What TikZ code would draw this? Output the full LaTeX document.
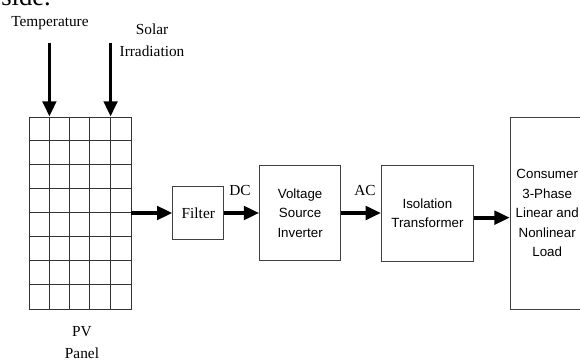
\documentclass[tikz,border=0pt]{standalone}
\usepackage{fontspec}
\setmainfont{Liberation Serif}
\setsansfont{Liberation Sans}
\usetikzlibrary{arrows.meta, positioning}

\begin{document}
\begin{tikzpicture}[x=0.75pt, y=-0.75pt]

    % Define styles for the nodes
    \tikzset{
        block/.style={
            rectangle, draw=black!75, line width=0.6pt, text centered,
            inner sep=1pt
        },
        serifbox/.style={block, font=\rmfamily\fontsize{11.5}{14}\selectfont},
        sansbox/.style={block, align=center,
            font=\sffamily\fontsize{10}{14.6}\selectfont},
        label/.style={align=center, inner sep=0pt,
            font=\rmfamily\fontsize{11.5}{16.5}\selectfont},
        arrow/.style={line width=2.8pt, -{Triangle[length=11.5pt, width=10pt]}}
    }
    \useasboundingbox (0,0) rectangle (580,363);

    % Nodes
    \node (side) [anchor=base west, inner sep=0pt,
        font=\rmfamily\fontsize{20}{24}\selectfont] at (1,6) {side.};
    \node (pv) [rectangle, draw=black!80, line width=0.6pt,
        minimum width=76.5pt, minimum height=144pt] at (80,213) {};
    \node (filter) [serifbox, minimum width=38.25pt, minimum height=39.75pt,
        right=30.75pt of pv] {Filter};
    \node (vsi) [sansbox, minimum width=60.75pt, minimum height=71.25pt,
        right=26.25pt of filter] {Voltage\\Source\\Inverter};
    \node (trans) [sansbox, minimum width=69pt, minimum height=72pt,
        right=30pt of vsi] {Isolation\\Transformer};
    \node (load) [sansbox, minimum width=55.5pt, minimum height=144pt,
        right=27pt of trans] {Consumer\\3-Phase\\Linear and\\Nonlinear\\Load};

    % Panel cells
    \foreach \c in {1,...,4}
        \draw [black!80, line width=0.6pt] ([xshift=\c*15.3pt]pv.north west)
            -- ([xshift=\c*15.3pt]pv.south west);
    \foreach \r in {1,...,7}
        \draw [black!80, line width=0.6pt] ([yshift=-\r*18pt]pv.north west)
            -- ([yshift=-\r*18pt]pv.north east);

    % Labels
    \node (templbl) [label] at (50,23) {Temperature};
    \node (solarlbl) [label] at (152,40) {Solar\\Irradiation};
    \node (pvlbl) [label] at (82,342.5) {PV\\Panel};
    \node (dc) [label] at (240,190) {DC};
    \node (ac) [label] at (365,190) {AC};
    \coordinate (temp) at (49.4,43);
    \coordinate (solar) at (110.6,43);

    % Arrows
    \draw [arrow] (temp) -- (temp |- pv.north);
    \draw [arrow] (solar) -- (solar |- pv.north);
    \draw [arrow] (pv) -- (filter);
    \draw [arrow] (filter) -- (vsi);
    \draw [arrow] (vsi) -- (trans);
    \draw [arrow] ([yshift=-3.5pt]trans.east) -- ([yshift=-3.5pt]trans.east -| load.west);

\end{tikzpicture}
\end{document}
